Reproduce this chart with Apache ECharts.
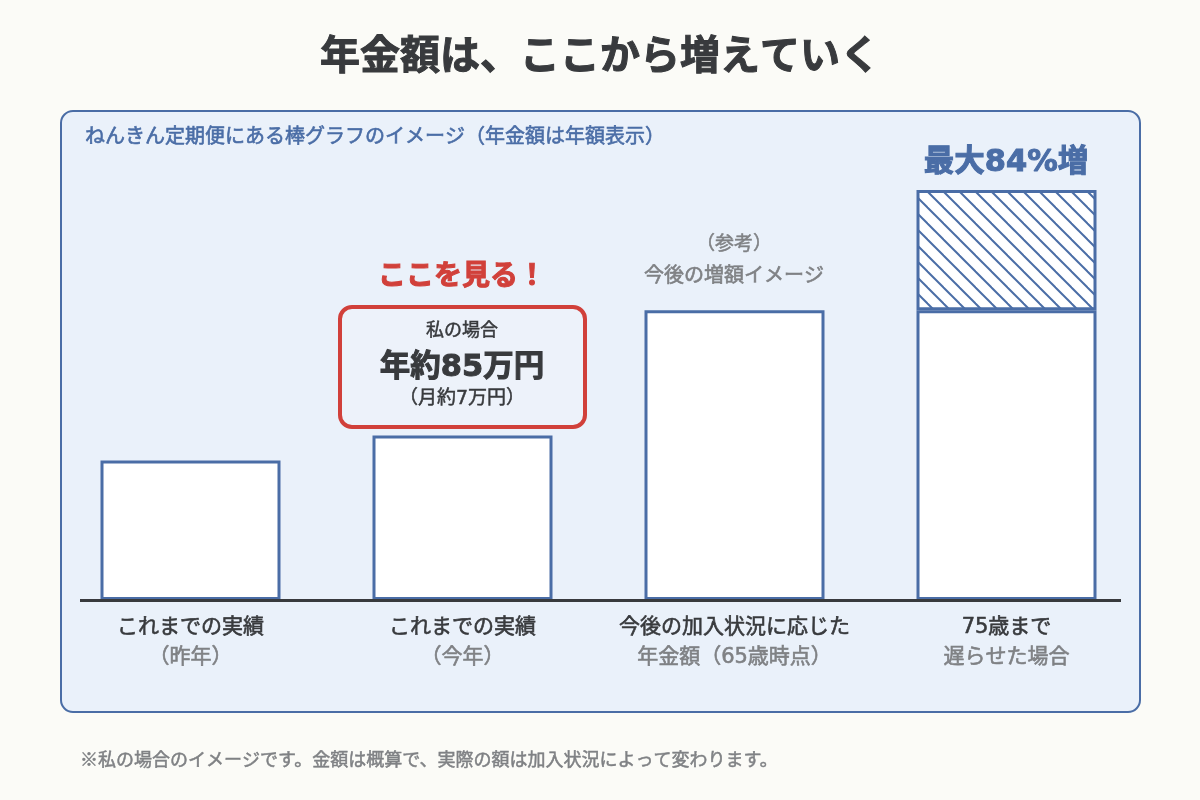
<!DOCTYPE html>
<html><head><meta charset="utf-8">
<style>html,body{margin:0;padding:0;background:#FBFBF7}#c{width:1200px;height:800px}</style>
<script src="https://cdn.jsdelivr.net/npm/echarts@6/dist/echarts.min.js"></script>
</head><body><div id="c"></div>
<script>
const categoryMain = ['これまでの実績','これまでの実績','今後の加入状況に応じた','75歳まで'];
const categorySub = ['（昨年）','（今年）','年金額（65歳時点）','遅らせた場合'];
const baseValues = [72.5,85.5,150.5,150.5];
const extraValues = [null,null,null,62.5];
const titleText = '年金額は、ここから増えていく';
const panelText = 'ねんきん定期便にある棒グラフのイメージ（年金額は年額表示）';
const noteText = '※私の場合のイメージです。金額は概算で、実際の額は加入状況によって変わります。';

const FONT = '"DejaVu Sans","Noto Sans CJK JP",sans-serif';
const CJK = '"Noto Sans CJK JP",sans-serif';
const BLUE = '#4A6DA6', RED = '#D1403A', DARK = '#383A3D', GRAY = '#7F8184';

const P = 16, pc = document.createElement('canvas');
pc.width = P; pc.height = P;
const g = pc.getContext('2d');
g.fillStyle = '#fff'; g.fillRect(0,0,P,P);
g.strokeStyle = BLUE; g.lineWidth = 2;
for (let k=-P; k<=P; k+=P){ g.beginPath(); g.moveTo(k-2,-2); g.lineTo(k+P+2,P+2); g.stroke(); }

function txt(x,y,text,size,weight,fill,align,stroke,family){
  const style = {x,y,text,fill,align:align||'center',verticalAlign:'middle',
    font:`${weight} ${size}px ${family||FONT}`};
  if (stroke) { style.stroke = fill; style.lineWidth = stroke; }
  return {type:'text',z:50,style};
}
const chart = echarts.init(document.getElementById('c'),null,{renderer:'canvas'});
chart.setOption({
  backgroundColor:'#FBFBF7',
  animation:false,
  grid:{left:54.5,width:1088,top:190,height:410,containLabel:false},
  xAxis:{type:'category',data:categoryMain.map((m,i)=>m+'\n'+categorySub[i]),
    axisLine:{show:false},axisTick:{show:false},
    axisLabel:{margin:13,interval:0,
      formatter:v=>{const [a,b]=v.split('\n');return `{a|${a}}\n{b|${b}}`;},
      rich:{a:{fontSize:21,fontWeight:'normal',fontFamily:FONT,color:DARK,lineHeight:29.5,align:'center',textBorderColor:DARK,textBorderWidth:0.6},
            b:{fontSize:21,fontWeight:'normal',fontFamily:FONT,color:GRAY,lineHeight:29.5,align:'center',textBorderColor:GRAY,textBorderWidth:0.6}}}},
  yAxis:{type:'value',min:0,max:213,show:false,splitLine:{show:false}},
  series:[
    {type:'bar',stack:'a',data:baseValues,barWidth:180,z:5,
     itemStyle:{color:'#fff',borderColor:BLUE,borderWidth:3}},
    {type:'bar',stack:'a',data:extraValues,barWidth:180,z:4,
     itemStyle:{color:{image:pc,repeat:'repeat'},borderColor:BLUE,borderWidth:3}}
  ],
  graphic:{elements:[
    {type:'rect',z:-10,shape:{x:61,y:111,width:1079,height:601,r:12},
      style:{fill:'#EAF1FA',stroke:BLUE,lineWidth:2}},
    txt(600,59,titleText,40,'bold',DARK,'center',1),
    txt(85,138,panelText,20,'normal',BLUE,'left',0.6),
    txt(1006,163,'最大84%増',30.5,'bold',BLUE,'center',1),
    txt(734,245,'（参考）',19,'normal',GRAY,'center',0.5),
    txt(734,277,'今後の増額イメージ',20,'normal',GRAY,'center',0.6),
    txt(462,278,'ここを見る！',28,'bold',RED,'center',1),
    {type:'rect',z:40,shape:{x:340,y:307,width:245,height:120,r:12},
      style:{fill:'#EDF2FA',stroke:RED,lineWidth:4}},
    txt(462,331,'私の場合',18,'normal',DARK,'center',0.5),
    txt(462,368,'年約85万円',30.5,'bold',DARK,'center',1),
    txt(462,399,'（月約7万円）',19,'normal',DARK,'center',0.5),
    {type:'line',z:45,shape:{x1:80,y1:600.5,x2:1121,y2:600.5},style:{stroke:DARK,lineWidth:3}},
    txt(80,759,noteText,18,'normal',GRAY,'left',0.5,CJK)
  ]}
});
</script></body></html>
